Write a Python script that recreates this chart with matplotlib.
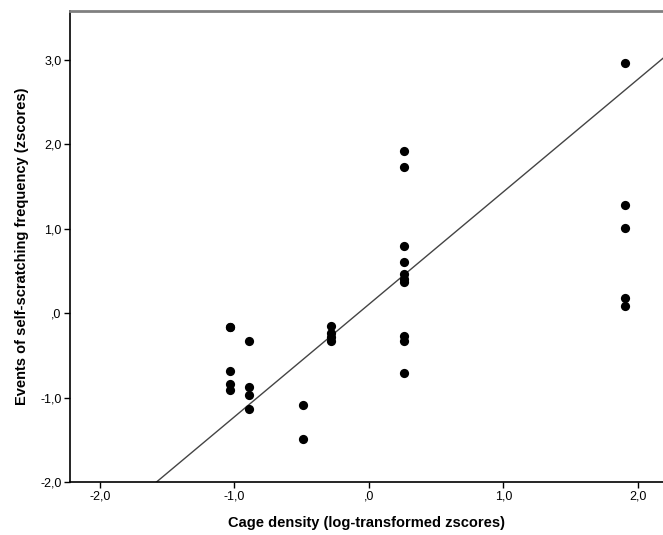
import numpy as np
import matplotlib
matplotlib.use("Agg")
import matplotlib.pyplot as plt
from matplotlib.ticker import FuncFormatter

plt.rcParams["font.family"] = ["Liberation Sans", "DejaVu Sans"]

# cage density (log-transformed z-scores)
density = [-1.03, -1.03, -1.03, -1.03, -1.03,
           -0.89, -0.89, -0.89, -0.89,
           -0.49, -0.49,
           -0.28, -0.28, -0.28, -0.28,
           0.26, 0.26, 0.26, 0.26, 0.26, 0.26, 0.26, 0.26, 0.26, 0.26,
           1.90, 1.90, 1.90, 1.90, 1.90]
# self-scratching events (z-scores)
scratching = [-0.16, -0.69, -0.84, -0.91, -0.16,
              -0.33, -0.87, -0.97, -1.14,
              -1.09, -1.49,
              -0.15, -0.23, -0.28, -0.33,
              1.92, 1.73, 0.80, 0.61, 0.46, 0.41, 0.37, -0.27, -0.33, -0.71,
              2.96, 1.28, 1.01, 0.18, 0.08]

# fit line
fit_intercept = 0.106
fit_slope = 1.333


def comma_fmt(v, pos):
    s = f"{v:.1f}".replace(".", ",")
    if s.startswith("0,"):
        s = s[1:]
    if s == "-0,0":
        s = ",0"
    return s


fig = plt.figure(figsize=(6.63, 5.35), dpi=100)
ax = fig.add_axes([70 / 663, 53 / 535, 593 / 663, 471 / 535])

ax.scatter(density, scratching, s=44, color="black", zorder=3, linewidths=0)
ax.axline((0, fit_intercept), slope=fit_slope, color="#444444", lw=1.0, zorder=2)

ax.set_xlim(-2.223, 2.186)
ax.set_ylim(-2.0, 3.58)
ax.set_xticks([-2, -1, 0, 1, 2])
ax.set_yticks([-2, -1, 0, 1, 2, 3])
ax.xaxis.set_major_formatter(FuncFormatter(comma_fmt))
ax.yaxis.set_major_formatter(FuncFormatter(comma_fmt))
ax.tick_params(direction="out", length=4, width=1, labelsize=9, colors="black", pad=2)

ax.spines["right"].set_visible(False)
ax.spines["top"].set_color("#808080")
ax.spines["top"].set_linewidth(2)
ax.spines["left"].set_linewidth(1.2)
ax.spines["bottom"].set_linewidth(1.2)

ax.set_xlabel("Cage density (log-transformed zscores)", fontsize=10.5, fontweight="bold", labelpad=10)
ax.set_ylabel("Events of self-scratching frequency (zscores)", fontsize=10.5, fontweight="bold", labelpad=8)

plt.savefig("out.png", dpi=100)
